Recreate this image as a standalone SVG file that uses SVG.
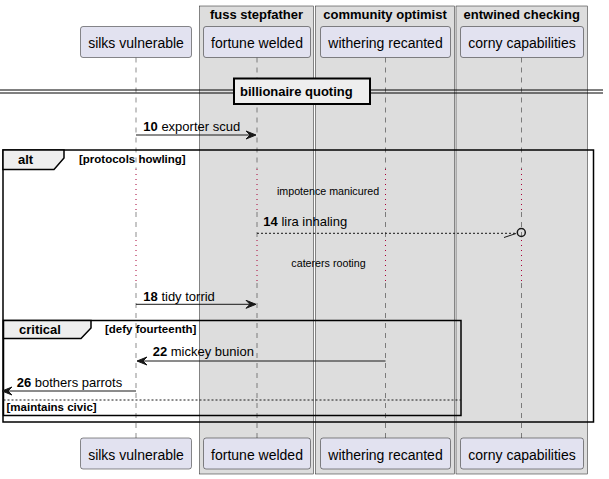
<svg xmlns="http://www.w3.org/2000/svg" width="609" height="479" viewBox="0 0 609 479">
<style>
text{font-family:"Liberation Sans",Arial,sans-serif;fill:#000}
.grp{fill:#DDDDDD;stroke:#181818;stroke-width:0.5}
.gt{font-size:13px;font-weight:bold;text-anchor:middle}
.pbox{fill:#E2E2F0;stroke:#181818;stroke-width:0.5}
.pt{font-size:14px;text-anchor:middle}
.life{stroke:#181818;stroke-width:0.5;stroke-dasharray:5,5;fill:none}
.delay{stroke:#A80036;stroke-width:1;stroke-dasharray:1,4;fill:none}
.msg{stroke:#181818;stroke-width:1;fill:none}
.dmsg{stroke:#181818;stroke-width:1;stroke-dasharray:2,2;fill:none}
.ah{fill:#181818;stroke:#181818;stroke-width:1}
.ml{font-size:13px}
.frame{fill:none;stroke:#000;stroke-width:1.5}
.tab{fill:#EEEEEE;stroke:#000;stroke-width:1.5}
.ft{font-size:13px;font-weight:bold}
.fc{font-size:11.5px;font-weight:bold}
.dt{font-size:10.7px;text-anchor:middle}
</style>
<g id="box-fuss-stepfather"><rect class="grp" x="199.5" y="6" width="114" height="468"/><text class="gt" x="256.5" y="19">fuss stepfather</text></g>
<g id="box-community-optimist"><rect class="grp" x="315.5" y="6" width="139" height="468"/><text class="gt" x="385" y="19">community optimist</text></g>
<g id="box-entwined-checking"><rect class="grp" x="456" y="6" width="131.5" height="468"/><text class="gt" x="521.7" y="19">entwined checking</text></g>
<g id="lifelines">
<path class="life" d="M136,57.5V169M136,212V240M136,283V438"/>
<path class="delay" d="M136,169V212M136,240V283"/>
<path class="life" d="M257,57.5V169M257,212V240M257,283V438"/>
<path class="delay" d="M257,169V212M257,240V283"/>
<path class="life" d="M385.5,57.5V169M385.5,212V240M385.5,283V438"/>
<path class="delay" d="M385.5,169V212M385.5,240V283"/>
<path class="life" d="M521.5,57.5V169M521.5,212V240M521.5,283V438"/>
<path class="delay" d="M521.5,169V212M521.5,240V283"/>
</g>
<g id="silks-vulnerable"><rect class="pbox" x="80.5" y="26.5" width="111" height="31" rx="2.5"/><text class="pt" x="136" y="48">silks vulnerable</text><rect class="pbox" x="80.5" y="438" width="111" height="31" rx="2.5"/><text class="pt" x="136" y="459.5">silks vulnerable</text></g>
<g id="fortune-welded"><rect class="pbox" x="203.5" y="26.5" width="107" height="31" rx="2.5"/><text class="pt" x="257" y="48">fortune welded</text><rect class="pbox" x="203.5" y="438" width="107" height="31" rx="2.5"/><text class="pt" x="257" y="459.5">fortune welded</text></g>
<g id="withering-recanted"><rect class="pbox" x="320.5" y="26.5" width="130" height="31" rx="2.5"/><text class="pt" x="385.5" y="48">withering recanted</text><rect class="pbox" x="320.5" y="438" width="130" height="31" rx="2.5"/><text class="pt" x="385.5" y="459.5">withering recanted</text></g>
<g id="corny-capabilities"><rect class="pbox" x="460.5" y="26.5" width="123" height="31" rx="2.5"/><text class="pt" x="522" y="48">corny capabilities</text><rect class="pbox" x="460.5" y="438" width="123" height="31" rx="2.5"/><text class="pt" x="522" y="459.5">corny capabilities</text></g>
<g id="divider">
<line x1="0" y1="90" x2="603" y2="90" stroke="#000" stroke-width="1"/>
<line x1="0" y1="93" x2="603" y2="93" stroke="#000" stroke-width="1"/>
<rect x="234" y="78.5" width="136" height="25.5" fill="#EEEEEE" stroke="#000" stroke-width="2"/>
<text class="ft" x="240" y="96">billionaire quoting</text>
</g>
<g id="delays">
<text class="dt" x="328" y="194.5">impotence manicured</text>
<text class="dt" x="328.5" y="267">caterers rooting</text>
</g>
<g id="frames">
<rect class="frame" x="3" y="150" width="590.5" height="272"/>
<polygon class="tab" points="3,150 64,150 64,158 54,169.5 3,169.5"/>
<text class="ft" x="18" y="164">alt</text>
<text class="fc" x="79" y="163">[protocols howling]</text>
<rect class="frame" x="3.5" y="320.5" width="457.5" height="95"/>
<polygon class="tab" points="3.5,320.5 91,320.5 91,328 81,338.5 3.5,338.5"/>
<text class="ft" x="19" y="334">critical</text>
<text class="fc" x="105" y="333">[defy fourteenth]</text>
<line x1="3.5" y1="400" x2="461" y2="400" class="dmsg"/>
<text class="fc" x="6.5" y="411">[maintains civic]</text>
</g>
<g id="connectors">
<line class="msg" x1="136" y1="135" x2="255" y2="135"/>
<polygon class="ah" points="246,131 256,135 246,139 250,135"/>
<text class="ml" x="143.3" y="130.5"><tspan font-weight="bold">10</tspan> exporter scud</text>
<line class="dmsg" x1="257" y1="233.3" x2="516.5" y2="233.3"/>
<line x1="504" y1="237.5" x2="516" y2="233.5" stroke="#181818" stroke-width="1"/>
<circle cx="521.3" cy="232.5" r="4" fill="none" stroke="#181818" stroke-width="1.5"/>
<text class="ml" x="263.3" y="226"><tspan font-weight="bold">14</tspan> lira inhaling</text>
<line class="msg" x1="136" y1="304.3" x2="255" y2="304.3"/>
<polygon class="ah" points="246,300.3 256,304.3 246,308.3 250,304.3"/>
<text class="ml" x="143.3" y="300.5"><tspan font-weight="bold">18</tspan> tidy torrid</text>
<line class="msg" x1="385.5" y1="361" x2="138" y2="361"/>
<polygon class="ah" points="147,357 137,361 147,365 143,361"/>
<text class="ml" x="152.7" y="356"><tspan font-weight="bold">22</tspan> mickey bunion</text>
<line class="msg" x1="136" y1="391" x2="3" y2="391"/>
<polygon class="ah" points="12,387 2,391 12,395 8,391"/>
<text class="ml" x="16.7" y="387"><tspan font-weight="bold">26</tspan> bothers parrots</text>
</g>
</svg>
